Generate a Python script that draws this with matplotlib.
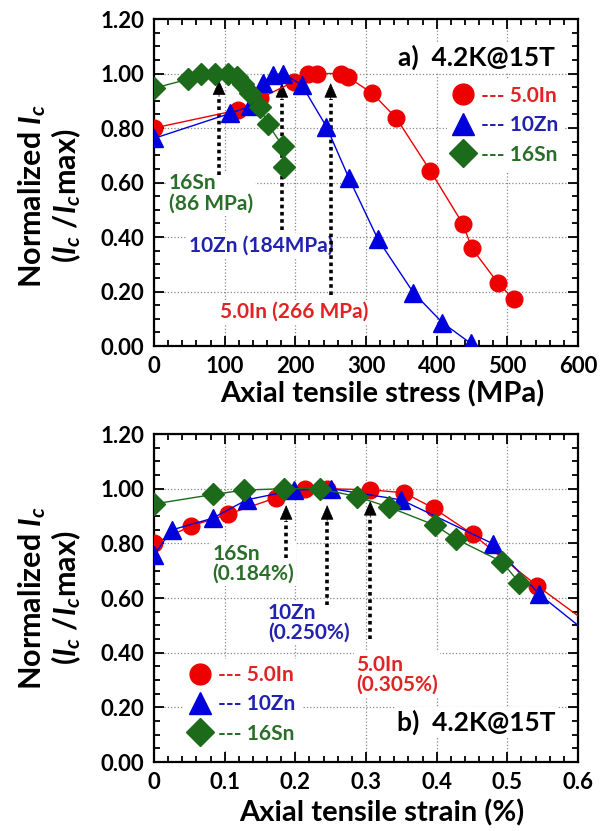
import matplotlib
matplotlib.use("Agg")
import matplotlib.pyplot as plt
from matplotlib.lines import Line2D
from matplotlib.ticker import MultipleLocator, FormatStrFormatter, FuncFormatter

plt.rcParams['font.family'] = ['Lato', 'DejaVu Sans']
plt.rcParams['font.weight'] = 'bold'
plt.rcParams['axes.labelweight'] = 'bold'
plt.rcParams['mathtext.fontset'] = 'custom'
plt.rcParams['mathtext.rm'] = 'Lato:bold'
plt.rcParams['mathtext.it'] = 'Lato:bold:italic'
plt.rcParams['mathtext.bf'] = 'Lato:bold'

# ---- data ----
series_names = ['5.0In', '10Zn', '16Sn']

# a) Ic vs axial tensile stress (MPa)
stress_in = [0, 119, 150, 198, 218, 230, 265, 275, 309, 343, 391, 437, 450, 487, 509]
ic_in_stress = [0.80, 0.866, 0.909, 0.97, 0.998, 1.0, 1.0, 0.986, 0.927, 0.836, 0.643, 0.448, 0.358, 0.23, 0.172]
stress_zn = [0, 108, 136, 154, 169, 183, 209, 244, 276, 317, 367, 408, 448]
ic_zn_stress = [0.762, 0.854, 0.88, 0.965, 0.995, 1.0, 0.958, 0.805, 0.615, 0.391, 0.196, 0.086, 0.01]
stress_sn = [0, 48, 66, 86, 104, 117, 126, 136, 150, 161, 182, 184]
ic_sn_stress = [0.946, 0.979, 1.0, 1.0, 1.0, 0.986, 0.96, 0.93, 0.876, 0.815, 0.734, 0.658]

# b) Ic vs axial tensile strain (%)
strain_in = [0, 0.052, 0.104, 0.173, 0.213, 0.245, 0.306, 0.354, 0.396, 0.451, 0.542]
ic_in_strain = [0.80, 0.863, 0.906, 0.967, 0.998, 1.0, 0.996, 0.985, 0.928, 0.833, 0.645]
strain_zn = [0, 0.025, 0.083, 0.131, 0.198, 0.251, 0.350, 0.480, 0.545]
ic_zn_strain = [0.757, 0.849, 0.892, 0.959, 0.995, 1.0, 0.959, 0.798, 0.614]
strain_sn = [0, 0.084, 0.128, 0.184, 0.235, 0.287, 0.333, 0.397, 0.428, 0.492, 0.517]
ic_sn_strain = [0.944, 0.979, 0.995, 1.0, 1.0, 0.971, 0.932, 0.867, 0.815, 0.733, 0.656]
# fitted curves continue to the axis end
tail_strain = [0.6]
tail_in = [0.535]
tail_zn = [0.50]

# peak markers: (x, arrow tail, arrow tip)
peaks_stress = [(92, 0.628, 0.975), (181, 0.426, 0.965), (250, 0.187, 0.965)]
peaks_strain = [(0.187, 0.746, 0.94), (0.245, 0.574, 0.94), (0.306, 0.45, 0.955)]

marker_col = ['#ee0000', '#0000dd', '#1b6b1b']
text_col = ['#e02424', '#2222b0', '#2a6e2a']
markers = ['o', '^', 'D']
msizes = [12, 13, 11]


def style_axes(ax, xmax, xmajor, xminor):
    ax.set_xlim(0, xmax)
    ax.set_ylim(0, 1.2)
    ax.xaxis.set_major_locator(MultipleLocator(xmajor))
    ax.xaxis.set_minor_locator(MultipleLocator(xminor))
    ax.yaxis.set_major_locator(MultipleLocator(0.2))
    ax.yaxis.set_minor_locator(MultipleLocator(0.05))
    ax.yaxis.set_major_formatter(FormatStrFormatter('%.2f'))
    ax.tick_params(which='both', direction='in', top=True, right=True,
                   labelsize=16, width=1.3)
    ax.tick_params(which='major', length=7, pad=7)
    ax.tick_params(which='minor', length=4)
    for s in ax.spines.values():
        s.set_linewidth(1.6)
    ax.set_axisbelow(True)
    ax.grid(which='major', ls=':', color='#888888', lw=0.9)


def draw_arrows(ax, peaks, dy):
    for x, y0, y1 in peaks:
        ax.plot([x, x], [y0, y1 - dy], ls=(0, (1, 1)), lw=2.6, color='k', zorder=4)
        ax.annotate('', xy=(x, y1), xytext=(x, y1 - dy), zorder=4,
                    arrowprops=dict(arrowstyle='-|>,head_length=0.8,head_width=0.35',
                                    lw=0.5, color='k', mutation_scale=12,
                                    shrinkA=0, shrinkB=0))


def legend(ax, anchor):
    handles = [Line2D([], [], marker=m, ls='none', color=c, ms=ms + 3)
               for m, c, ms in zip(markers, marker_col, msizes)]
    leg = ax.legend(handles, ['--- ' + n for n in series_names], loc='upper left',
                    bbox_to_anchor=anchor, fontsize=15, handlelength=1.0,
                    handletextpad=0.35, labelspacing=0.45, borderpad=0.3,
                    borderaxespad=0, frameon=True, fancybox=False,
                    labelcolor=text_col)
    leg.get_frame().set_edgecolor('none')
    leg.get_frame().set_facecolor('white')
    leg.get_frame().set_alpha(1)
    leg.set_zorder(3)


def ylabel(fig, ax, frac):
    pos = ax.get_position()
    yc = pos.y0 + pos.height * frac
    fig.text(0.053, yc, r'Normalized $I_c$', rotation=90, ha='center', va='center', fontsize=22)
    fig.text(0.109, yc, r'($I_c$ /$I_c$max)', rotation=90, ha='center', va='center', fontsize=22)


fig = plt.figure(figsize=(6.03, 8.31), dpi=100)
ax1 = fig.add_axes([0.2554, 0.5836, 0.7032, 0.3935])
ax2 = fig.add_axes([0.2554, 0.0830, 0.7032, 0.3947])

box = dict(facecolor='white', edgecolor='none', pad=1.5)

# ---- panel a ----
xs = [stress_in, stress_zn, stress_sn]
ys = [ic_in_stress, ic_zn_stress, ic_sn_stress]
for x, y, m, c, ms in zip(xs, ys, markers, marker_col, msizes):
    ax1.plot(x, y, color=c, lw=1.0, marker=m, ms=ms, mec=c, mfc=c, zorder=5)
style_axes(ax1, 600, 100, 20)
ax1.set_xlabel('Axial tensile stress (MPa)', fontsize=21)
ax1.xaxis.set_label_coords(0.538, -0.105)
draw_arrows(ax1, peaks_stress, 0.06)
ax1.text(21, 0.56, '16Sn\n(86 MPa)', color=text_col[2], fontsize=15, ha='left',
         va='center', linespacing=1.0, bbox=box, zorder=3)
ax1.text(152, 0.37, '10Zn (184MPa)', color=text_col[1], fontsize=15, ha='center',
         va='center', bbox=box, zorder=3)
ax1.text(198, 0.126, '5.0In (266 MPa)', color=text_col[0], fontsize=15, ha='center',
         va='center', bbox=box, zorder=3)
ax1.text(0.946, 0.884, 'a)  4.2K@15T', transform=ax1.transAxes, fontsize=19,
         ha='right', va='center', bbox=box, zorder=3)
legend(ax1, (0.69, 0.815))

# ---- panel b ----
xs = [strain_in + tail_strain, strain_zn + tail_strain, strain_sn]
ys = [ic_in_strain + tail_in, ic_zn_strain + tail_zn, ic_sn_strain]
pts_x = [strain_in, strain_zn, strain_sn]
pts_y = [ic_in_strain, ic_zn_strain, ic_sn_strain]
for x, y, px, py, m, c, ms in zip(xs, ys, pts_x, pts_y, markers, marker_col, msizes):
    ax2.plot(x, y, color=c, lw=1.0, zorder=5)
    ax2.plot(px, py, ls='none', marker=m, ms=ms, mec=c, mfc=c, zorder=5)
style_axes(ax2, 0.6, 0.1, 0.02)
ax2.xaxis.set_major_formatter(FuncFormatter(lambda v, p: '0' if abs(v) < 1e-9 else f'{v:.1f}'))
ax2.set_xlabel('Axial tensile strain (%)', fontsize=21)
ax2.xaxis.set_label_coords(0.538, -0.115)
draw_arrows(ax2, peaks_strain, 0.06)
ax2.text(0.083, 0.725, '16Sn\n(0.184%)', color=text_col[2], fontsize=15, ha='left',
         va='center', linespacing=1.0, bbox=box, zorder=3)
ax2.text(0.161, 0.51, '10Zn\n(0.250%)', color=text_col[1], fontsize=15, ha='left',
         va='center', linespacing=1.0, bbox=box, zorder=3)
ax2.text(0.286, 0.32, '5.0In\n(0.305%)', color=text_col[0], fontsize=15, ha='left',
         va='center', linespacing=1.0, bbox=box, zorder=3)
ax2.text(0.946, 0.122, 'b)  4.2K@15T', transform=ax2.transAxes, fontsize=19,
         ha='right', va='center', bbox=box, zorder=3)
legend(ax2, (0.07, 0.315))

ylabel(fig, ax1, 0.46)
ylabel(fig, ax2, 0.5)

fig.savefig('out.png', dpi=100)
